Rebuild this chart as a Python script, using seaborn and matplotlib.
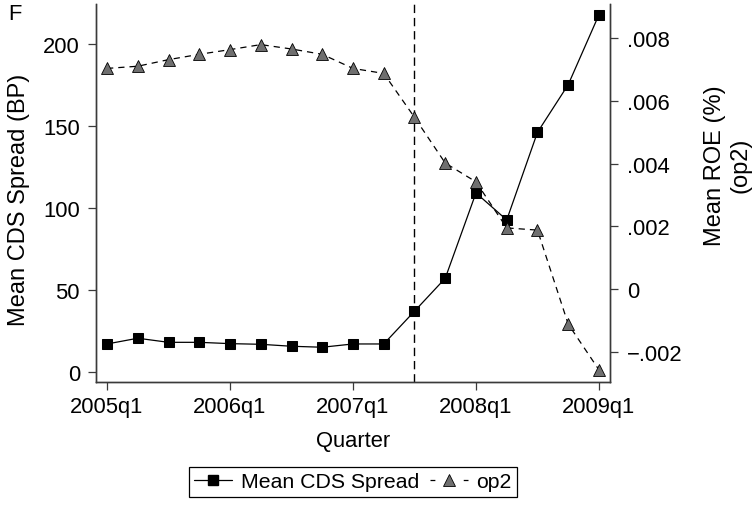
import numpy as np
import pandas as pd
import matplotlib
matplotlib.use("Agg")
import matplotlib.pyplot as plt
from matplotlib.lines import Line2D
import seaborn as sns

# Quarterly observations, 2005q1 .. 2009q1
quarters = ["2005q1", "2005q2", "2005q3", "2005q4",
            "2006q1", "2006q2", "2006q3", "2006q4",
            "2007q1", "2007q2", "2007q3", "2007q4",
            "2008q1", "2008q2", "2008q3", "2008q4",
            "2009q1"]
cds_spread = [16.9, 20.4, 17.9, 17.9, 17.1, 16.7, 15.5, 14.9, 16.9, 16.9,
              36.9, 57.0, 109.1, 92.6, 146.1, 175.2, 217.9]
roe_op2 = [0.00704, 0.00711, 0.00732, 0.00749, 0.00764, 0.00780, 0.00766,
           0.00749, 0.00704, 0.00688, 0.00548, 0.00402, 0.00342, 0.00195,
           0.00188, -0.00112, -0.00258]

xtick_labels = ["2005q1", "2006q1", "2007q1", "2008q1", "2009q1"]
left_ticks = [0, 50, 100, 150, 200]
right_ticks = [-0.002, 0.0, 0.002, 0.004, 0.006, 0.008]
right_tick_labels = ["\u2212.002", "0", ".002", ".004", ".006", ".008"]
event_quarter = "2007q3"

sns.set_style("ticks")
plt.rcParams["font.family"] = ["Liberation Sans", "DejaVu Sans"]
plt.rcParams["text.color"] = "black"
plt.rcParams["axes.labelcolor"] = "black"
FS = 15.8
FS_V = 17.0
FS_LEG = 15.3
SPINE = "#3a3a3a"
TRI_FILL = "#6f6f6f"

df = pd.DataFrame({"pos": np.arange(len(quarters)), "quarter": quarters,
                   "cds": cds_spread, "op2": roe_op2})

fig = plt.figure(figsize=(7.52, 5.06), dpi=100)
ax = fig.add_axes([0.1277, 0.2425, 0.6835, 0.7475])

sns.lineplot(data=df, x="pos", y="cds", ax=ax, color="black", lw=0.9,
             marker="s", markersize=6.5, markeredgecolor="black",
             markerfacecolor="black", legend=False)

ax2 = ax.twinx()
sns.lineplot(data=df, x="pos", y="op2", ax=ax2, color="black", lw=0.9,
             linestyle=(0, (5, 4)), marker="^", markersize=8,
             markerfacecolor=TRI_FILL, markeredgecolor="black",
             markeredgewidth=0.6, legend=False)

ax.axvline(quarters.index(event_quarter), color="black", lw=1.0,
           ls=(0, (6, 3.5)))

ax.set_xlim(-0.358, 16.36)
ax.set_ylim(-6.5, 224.4)
ax2.set_ylim(-0.002977, 0.009094)

ax.set_xticks([quarters.index(q) for q in xtick_labels])
ax.set_xticklabels(xtick_labels)
ax.set_yticks(left_ticks)
ax.set_yticklabels([str(v) for v in left_ticks])
ax2.set_yticks(right_ticks)
ax2.set_yticklabels(right_tick_labels)

for a in (ax, ax2):
    a.spines["top"].set_visible(False)
    for s in ("left", "right", "bottom"):
        a.spines[s].set_color(SPINE)
        a.spines[s].set_linewidth(1.0)
    a.tick_params(direction="out", length=6, width=0.9, color=SPINE,
                  labelsize=FS, labelcolor="black")
ax.tick_params(axis="y", pad=5.5)
ax.tick_params(axis="x", pad=4)
ax2.tick_params(axis="y", pad=6.5)

ax.set_xlabel("Quarter", fontsize=FS)
ax.xaxis.set_label_coords(0.5, -0.125)
ax.set_ylabel("Mean CDS Spread (BP)", fontsize=FS_V)
ax.yaxis.set_label_coords(-0.128, 0.485)
ax2.set_ylabel("Mean ROE (%)\n(op2)", fontsize=FS_V, linespacing=1.25)
ax2.yaxis.set_label_coords(1.182, 0.575)

handles = [
    Line2D([], [], color="black", lw=0.9, marker="s", markersize=6.5,
           markerfacecolor="black", markeredgecolor="black"),
    Line2D([], [], color="black", lw=0.9, ls=(0, (3.9, 22.7)), marker="^",
           markersize=8, markerfacecolor=TRI_FILL, markeredgecolor="black",
           markeredgewidth=0.6),
]
leg = ax.legend(handles, ["Mean CDS Spread", "op2"], loc="center",
                bbox_to_anchor=(0.5, -0.2635), ncol=2, frameon=True,
                fancybox=False, edgecolor="black", framealpha=1,
                handlelength=1.8, columnspacing=0.5, handletextpad=0.4,
                borderpad=0.25, borderaxespad=0, fontsize=FS_LEG)
leg.get_frame().set_linewidth(0.9)

fig.text(0.011, 0.972, "F", fontsize=FS, va="center", ha="left")

fig.savefig("out.png", dpi=100)
